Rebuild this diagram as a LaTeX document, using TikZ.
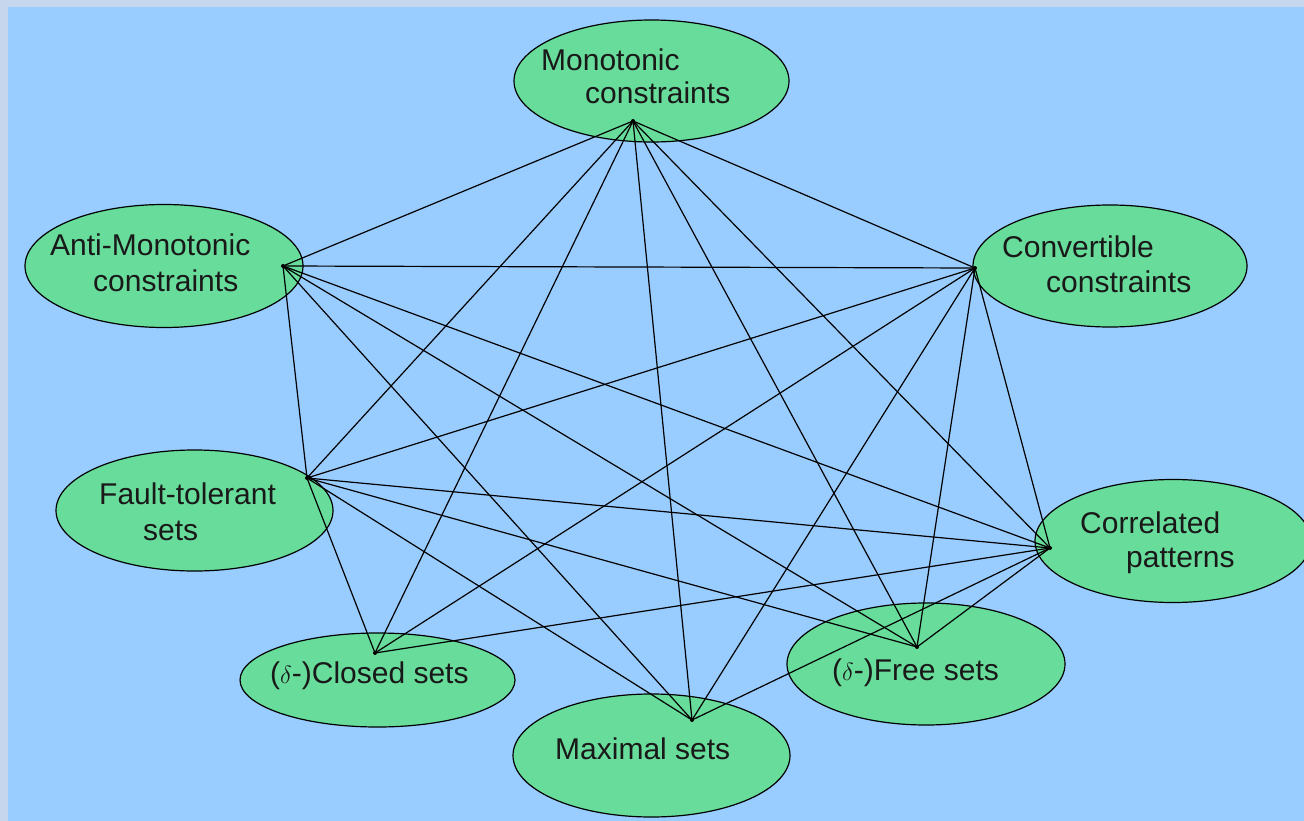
\documentclass[tikz,border=0pt]{standalone}
\usepackage{fontspec}
\setmainfont{Liberation Sans}
\usetikzlibrary{shapes.geometric}
\definecolor{frame}{RGB}{198,214,236}
\definecolor{sky}{RGB}{153,204,255}
\definecolor{leaf}{RGB}{104,220,154}
\tikzset{
  blob/.style={ellipse, draw=black, line width=1.2pt, fill=leaf, inner sep=0pt},
  edge/.style={draw=black, line width=1.2pt},
  txt/.style={anchor=base west, inner sep=0pt, font=\fontsize{30}{34}\selectfont, text=black!90},
  hubdot/.style={fill=black}
}
\begin{document}
\begin{tikzpicture}[x=1pt,y=-1pt]
  % canvas
  \fill[frame] (0,0) rectangle (1304,821);
  \fill[sky] (8,7) rectangle (1304,821);
  \useasboundingbox (0,0) rectangle (1304,821);

  % ellipses
  \begin{scope}
    \clip (8,7) rectangle (1304,821);
    \node[blob, minimum width=275pt, minimum height=122pt] (mono)   at (651.5,81) {};
    \node[blob, minimum width=278pt, minimum height=123pt] (anti)   at (164,266) {};
    \node[blob, minimum width=274pt, minimum height=122pt] (conv)   at (1110,266) {};
    \node[blob, minimum width=277pt, minimum height=121pt] (fault)  at (194.5,510.5) {};
    \node[blob, minimum width=276pt, minimum height=123pt] (corr)   at (1173,541) {};
    \node[blob, minimum width=275pt, minimum height=94pt]  (closed) at (377.5,680) {};
    \node[blob, minimum width=277pt, minimum height=123pt] (maxs)   at (651.5,755.5) {};
    \node[blob, minimum width=278pt, minimum height=122pt] (free)   at (926,664) {};
  \end{scope}

  % connection points
  \coordinate (hMono)   at (633,121);
  \coordinate (hAnti)   at (283,266);
  \coordinate (hConv)   at (975,268);
  \coordinate (hFault)  at (307,478);
  \coordinate (hCorr)   at (1050,548);
  \coordinate (hClosed) at (375,653);
  \coordinate (hMax)    at (692,720);
  \coordinate (hFree)   at (917,647);

  % links
  \foreach \t in {hAnti,hConv,hFault,hClosed,hMax,hFree,hCorr}
    \draw[edge] (hMono) -- (\t);
  \foreach \t in {hConv,hFault,hMax,hFree,hCorr}
    \draw[edge] (hAnti) -- (\t);
  \foreach \t in {hFault,hClosed,hMax,hFree,hCorr}
    \draw[edge] (hConv) -- (\t);
  \foreach \t in {hClosed,hMax,hFree,hCorr}
    \draw[edge] (hFault) -- (\t);
  \draw[edge] (hClosed) -- (hCorr);
  \draw[edge] (hMax) -- (hCorr);
  \draw[edge] (hFree) -- (hCorr);

  \foreach \h in {hMono,hAnti,hConv,hFault,hCorr,hClosed,hMax,hFree}
    \fill[hubdot] (\h) circle (2pt);

  % labels
  \node[txt] (monoA)   at (541,71)   {Monotonic};
  \node[txt] (monoB)   at (585,104)  {constraints};
  \node[txt] (antiA)   at (50,255)   {Anti-Monotonic};
  \node[txt] (antiB)   at (93,291)   {constraints};
  \node[txt] (convA)   at (1002,258) {Convertible};
  \node[txt] (convB)   at (1046,292) {constraints};
  \node[txt] (faultA)  at (99,504)   {Fault-tolerant};
  \node[txt] (faultB)  at (143,540)  {sets};
  \node[txt] (corrA)   at (1080,533) {Correlated};
  \node[txt] (corrB)   at (1126,567) {patterns};
  \node[txt] (closedA) at (270,683)  {($\delta$-)Closed sets};
  \node[txt] (maxA)    at (555,759)  {Maximal sets};
  \node[txt] (freeA)   at (832,680)  {($\delta$-)Free sets};
\end{tikzpicture}
\end{document}
